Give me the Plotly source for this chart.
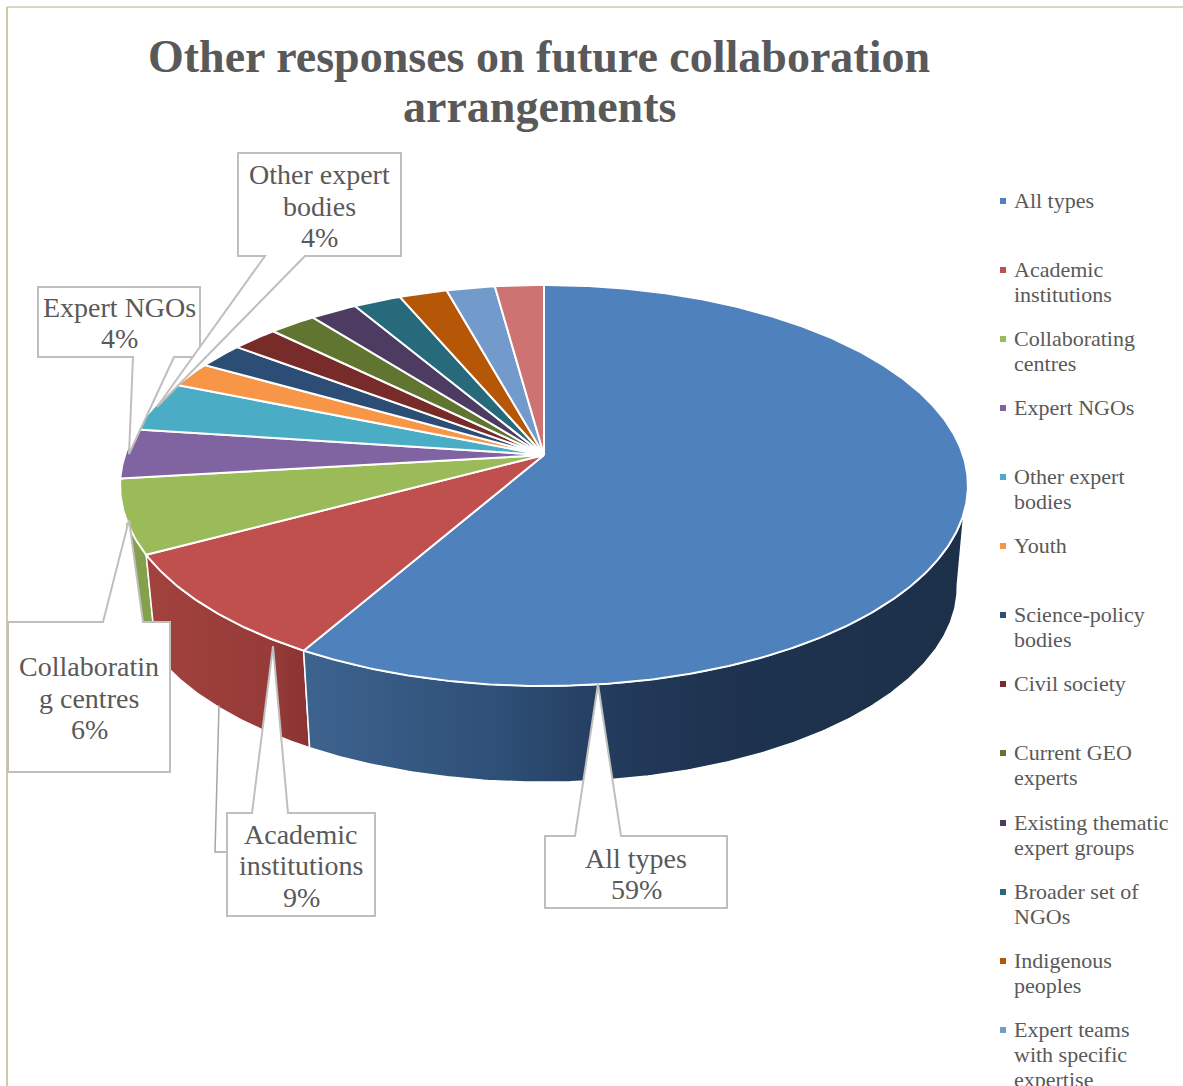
import numpy as np
import plotly.graph_objects as go

# Share of responses per collaboration arrangement, in percent
categories = ["All types", "Academic institutions", "Collaborating centres", "Expert NGOs",
              "Other expert bodies", "Youth", "Science-policy bodies", "Civil society",
              "Current GEO experts", "Existing thematic expert groups", "Broader set of NGOs",
              "Indigenous peoples", "Expert teams with specific expertise", "Others"]
values = [59, 9, 6, 4, 4, 2, 2, 2, 2, 2, 2, 2, 2, 2]
colors = ["#4f81bd", "#c0504d", "#9bbb59", "#8064a2", "#4bacc6", "#f79646", "#2c4d75",
          "#772c2a", "#5f7530", "#4d3b62", "#276a7c", "#b65708", "#729aca", "#cd7371"]

# Legend rows, wrapped the way they are set in the column
legend_lines = [["All types"], ["Academic", "institutions"], ["Collaborating", "centres"],
                ["Expert NGOs"], ["Other expert", "bodies"], ["Youth"],
                ["Science-policy", "bodies"], ["Civil society"], ["Current GEO", "experts"],
                ["Existing thematic", "expert groups"], ["Broader set of", "NGOs"],
                ["Indigenous", "peoples"], ["Expert teams", "with specific", "expertise"]]
legend_y = [201, 270, 339, 408, 477, 546, 615, 684, 753, 823, 892, 961, 1030]

# Callouts: slice index, wrapped name, text centre, line positions, box, pointer base and tip
callouts = [
    (3, ["Expert NGOs"], 119, [307, 338], (38, 287, 200, 357), (133, 174), (129, 454)),
    (4, ["Other expert", "bodies"], 319, [174, 206, 237], (238, 153, 401, 256), (265, 305), (157, 407)),
    (2, ["Collaboratin", "g centres"], 89, [666, 698, 729], (8, 622, 170, 772), (103, 143), (129, 520)),
    (1, ["Academic", "institutions"], 301, [834, 865, 897], (227, 813, 375, 916), (252, 288), (273, 646)),
    (0, ["All types"], 636, [858, 889], (545, 836, 727, 908), (575, 621), (598, 684)),
]

TEXT = "#595959"
FONT = "Liberation Serif"
EDGE = "#bfbfbf"

# Perspective view of the disc
CX, CY = 544, 455
RX, RY, PERSP = 419, 195.9, 0.152
WALL_DROP, WALL_SCALE = 102, 0.975
VIEW_SKEW = 30  # degrees of angular drift the 3-D view adds on the far-left side


def project(deg, scale=1.0, drop=0.0):
    deg = np.asarray(deg, dtype=float)
    frac = deg / 360
    t = np.radians(deg - VIEW_SKEW * frac ** 3 * (1 - frac))
    sx, sy = np.sin(t), np.cos(t)
    den = 1 + PERSP * sy
    return CX + scale * RX * sx / den, CY + drop - scale * RY * sy / den


def arc(a, b):
    return np.linspace(a, b, max(int(abs(b - a) * 2), 2))


edges = np.concatenate([[0], np.cumsum(values)]) * 3.6
fig = go.Figure()


def add_wall(top_a, top_b, low_a, low_b, stops):
    tx, ty = project(arc(top_a, top_b))
    bx, by = project(arc(low_b, low_a), scale=WALL_SCALE, drop=WALL_DROP)
    fig.add_trace(go.Scatter(
        x=np.r_[tx, bx, tx[0]], y=np.r_[ty, by, ty[0]], mode="lines", fill="toself",
        line=dict(color="white", width=1.5), hoverinfo="skip", showlegend=False,
        fillgradient=dict(type="horizontal", colorscale=stops),
    ))


# Rim, back to front; the side edges run from the top disc to the lower disc's extremes
add_wall(edges[2], 256, edges[2], 264.5, [[0, "#84a04a"], [1, "#84a04a"]])
add_wall(edges[1], edges[2], edges[1], edges[2], [[0, "#a2423e"], [0.75, "#963b38"], [1, "#8a3331"]])
add_wall(107, edges[1], 98.7, edges[1], [[0, "#3d638f"], [0.3, "#2e4f76"], [0.48, "#223a5b"],
                                         [0.62, "#1e3350"], [1, "#1d3049"]])

# Top face wedges
for name, col, a, b in zip(categories, colors, edges[:-1], edges[1:]):
    ax, ay = project(arc(a, b))
    fig.add_trace(go.Scatter(
        x=np.r_[CX, ax, CX], y=np.r_[CY, ay, CY], mode="lines", fill="toself",
        fillcolor=col, line=dict(color="white", width=2), name=name,
        hoverinfo="name", showlegend=False,
    ))

# Legend swatches
fig.add_trace(go.Scatter(
    x=[1003] * len(legend_y), y=legend_y, mode="markers", hoverinfo="skip", showlegend=False,
    marker=dict(symbol="square", size=6, color=colors[:len(legend_y)]),
))

annotations = []


def put_text(text, x, y, size, anchor="center", bold=False):
    annotations.append(dict(
        text=f"<b>{text}</b>" if bold else text, x=x, y=y, xref="x", yref="y",
        xanchor=anchor, yanchor="middle", showarrow=False,
        font=dict(family=FONT, size=size, color=TEXT),
    ))


put_text("Other responses on future collaboration", 539, 56, 46, bold=True)
put_text("arrangements", 539, 106, 46, bold=True)

for rows, y0 in zip(legend_lines, legend_y):
    for i, row in enumerate(rows):
        put_text(row, 1012, y0 + 25 * i - 0.5, 22, anchor="left")

shapes = [
    dict(type="line", xref="x", yref="y", x0=7, y0=7, x1=1183, y1=7,
         line=dict(color="#d0cba6", width=1.5)),
    dict(type="line", xref="x", yref="y", x0=7, y0=7, x1=7, y1=1086,
         line=dict(color="#d0cba6", width=2)),
    # Leader running from the academic slice's rim to its box
    dict(type="path", xref="x", yref="y", path="M219,705 L215,852 L227,852",
         line=dict(color="#a6a6a6", width=1.5)),
]

for idx, rows, cx, ys, (x0, y0, x1, y1), (b0, b1), (tx, ty) in callouts:
    pointer_up = ty < y0
    if pointer_up:
        path = f"M{x0},{y0} L{b0},{y0} L{tx},{ty} L{b1},{y0} L{x1},{y0} L{x1},{y1} L{x0},{y1} Z"
    else:
        path = f"M{x0},{y0} L{x1},{y0} L{x1},{y1} L{b1},{y1} L{tx},{ty} L{b0},{y1} L{x0},{y1} Z"
    shapes.append(dict(type="path", xref="x", yref="y", path=path, fillcolor="white",
                       line=dict(color=EDGE, width=2)))
    for row, y in zip(rows + [f"{values[idx]}%"], ys):
        put_text(row, cx, y, 28)

fig.update_layout(
    width=1183, height=1086, margin=dict(l=0, r=0, t=0, b=0),
    paper_bgcolor="white", plot_bgcolor="white", showlegend=False,
    xaxis=dict(range=[0, 1183], visible=False, fixedrange=True),
    yaxis=dict(range=[1086, 0], visible=False, fixedrange=True),
    shapes=shapes, annotations=annotations,
)

fig.write_html("out.html")
